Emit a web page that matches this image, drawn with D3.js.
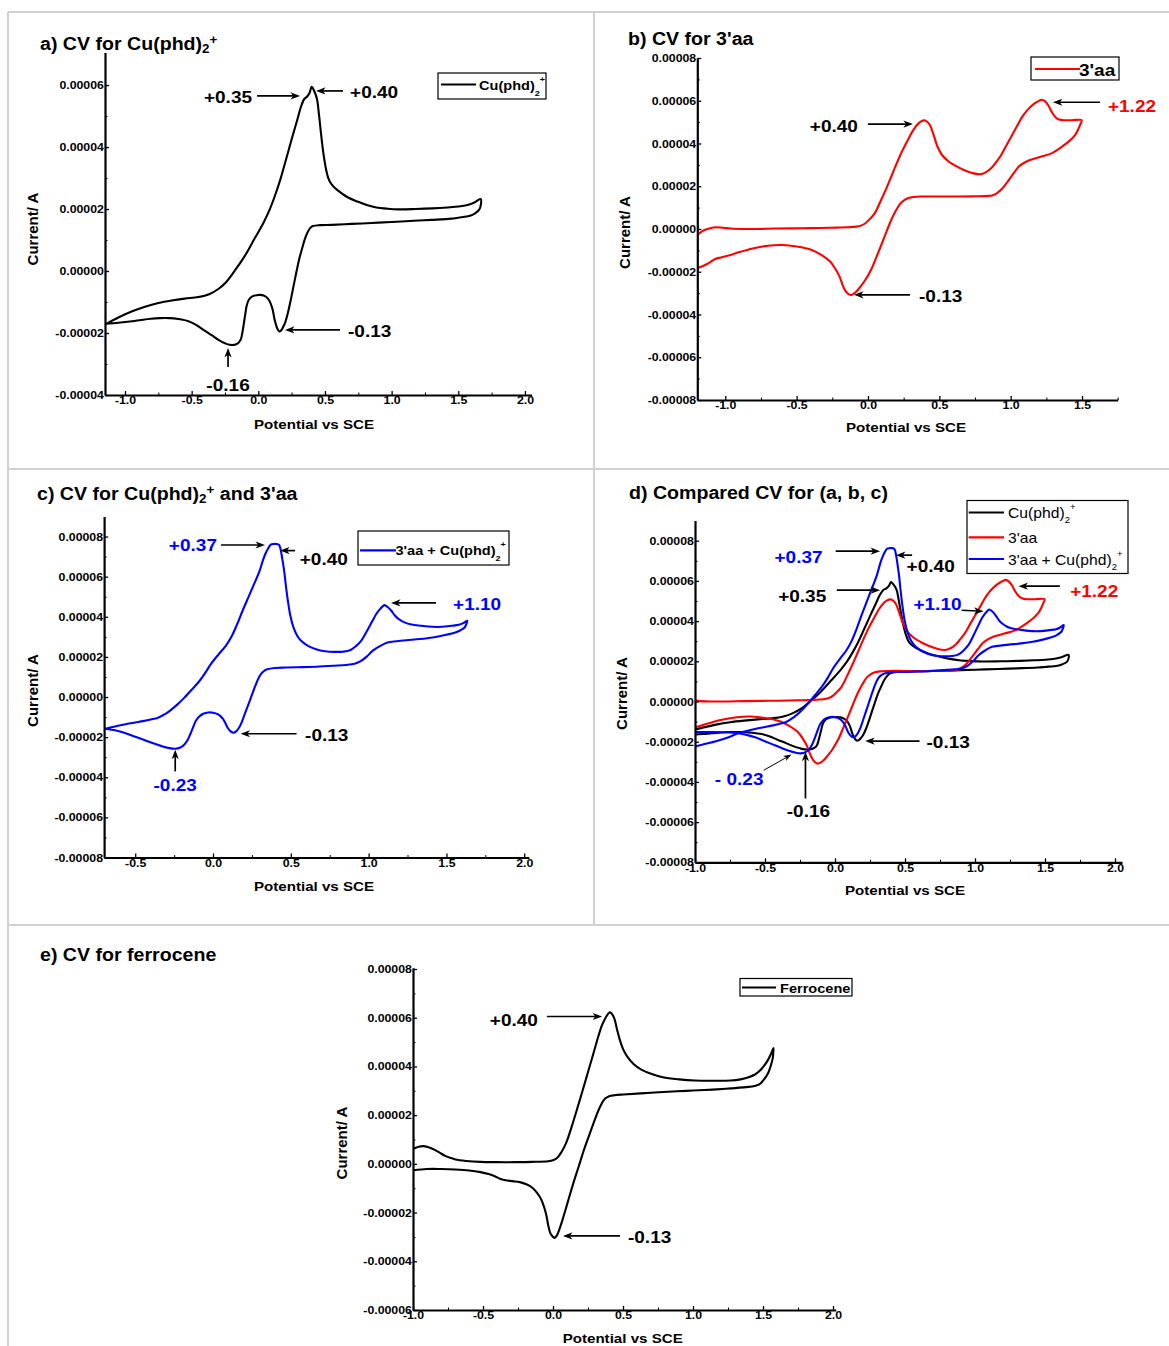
<!DOCTYPE html>
<html>
<head>
<meta charset="utf-8">
<script src="https://cdn.jsdelivr.net/npm/d3@7"></script>
<style>
  body { margin: 0; background: #fff; }
  svg text { font-family: "Liberation Sans", Arial, Helvetica, sans-serif; }
</style>
</head>
<body>
<svg id="fig" width="1169" height="1346"></svg>
<script>
// ---------------------------------------------------------------------------
// Cyclic voltammograms: [potential (V vs SCE), current (units of 1e-5 A)]
// Each loop is listed forward (anodic) sweep first, then the return sweep.
// ---------------------------------------------------------------------------
const cuPhd2Cv = [
  [-1.138,-1.70],[-1.05,-1.50],[-0.946,-1.30],[-0.85,-1.15],[-0.749,-1.03],[-0.65,-0.95],
  [-0.552,-0.89],[-0.45,-0.84],[-0.369,-0.75],[-0.30,-0.58],[-0.242,-0.36],[-0.17,0.05],
  [-0.101,0.49],[-0.03,1.03],[0.039,1.56],[0.085,1.98],[0.124,2.42],[0.165,2.95],
  [0.208,3.60],[0.25,4.25],[0.293,4.89],[0.32,5.30],[0.345,5.55],[0.365,5.62],
  [0.385,5.75],[0.400,5.94],[0.420,5.80],[0.440,5.55],[0.455,5.05],[0.470,4.45],
  [0.485,3.90],[0.505,3.35],[0.525,3.00],[0.546,2.82],[0.575,2.68],[0.603,2.58],
  [0.67,2.38],[0.744,2.24],[0.82,2.12],[0.885,2.05],[0.97,2.01],[1.054,1.99],
  [1.18,2.00],[1.307,2.02],[1.42,2.05],[1.504,2.08],[1.57,2.13],[1.617,2.20],[1.668,2.32],
  [1.659,1.99],[1.62,1.84],[1.589,1.78],[1.50,1.72],[1.448,1.69],[1.30,1.65],[1.166,1.62],
  [1.00,1.58],[0.85,1.55],[0.70,1.52],[0.55,1.49],[0.462,1.48],[0.41,1.45],[0.392,1.40],
  [0.37,1.25],[0.349,1.03],[0.33,0.75],[0.307,0.39],[0.285,-0.05],[0.265,-0.47],
  [0.245,-0.90],[0.223,-1.33],[0.20,-1.68],[0.186,-1.81],[0.170,-1.92],[0.158,-1.95],
  [0.145,-1.88],[0.124,-1.60],[0.105,-1.20],[0.082,-0.95],[0.060,-0.84],[0.039,-0.79],
  [0.015,-0.77],[-0.015,-0.78],[-0.045,-0.82],[-0.07,-0.92],[-0.087,-1.11],[-0.098,-1.40],
  [-0.107,-1.65],[-0.118,-1.95],[-0.130,-2.19],[-0.145,-2.30],[-0.170,-2.37],[-0.214,-2.38],
  [-0.25,-2.33],[-0.299,-2.22],[-0.35,-2.07],[-0.411,-1.90],[-0.47,-1.73],[-0.524,-1.62],
  [-0.60,-1.55],[-0.665,-1.52],[-0.74,-1.52],[-0.806,-1.54],[-0.88,-1.58],[-0.946,-1.62],
  [-1.05,-1.67],[-1.138,-1.70]
];

const aa3Cv = [
  [-1.202,-0.33],[-1.175,-0.17],[-1.145,-0.05],[-1.10,0.05],[-1.067,0.08],[-1.02,0.06],
  [-0.964,0.02],[-0.88,0.00],[-0.782,0.00],[-0.65,0.02],[-0.523,0.03],[-0.40,0.04],
  [-0.264,0.06],[-0.15,0.08],[-0.083,0.11],[-0.045,0.17],[-0.018,0.27],[0.015,0.48],
  [0.047,0.73],[0.085,1.25],[0.124,1.83],[0.165,2.48],[0.202,3.08],[0.240,3.65],
  [0.280,4.17],[0.315,4.60],[0.345,4.88],[0.370,5.02],[0.396,5.08],[0.415,5.02],
  [0.435,4.85],[0.46,4.40],[0.487,3.86],[0.52,3.45],[0.565,3.16],[0.615,2.95],
  [0.668,2.77],[0.73,2.62],[0.785,2.56],[0.825,2.65],[0.863,2.84],[0.895,3.10],
  [0.927,3.39],[0.965,3.85],[1.005,4.33],[1.045,4.82],[1.083,5.27],[1.125,5.62],
  [1.161,5.84],[1.195,5.98],[1.218,6.05],[1.240,5.98],[1.264,5.78],[1.29,5.45],
  [1.316,5.22],[1.340,5.12],[1.368,5.09],[1.43,5.09],[1.497,5.09],
  [1.485,4.85],[1.472,4.64],[1.45,4.38],[1.420,4.17],[1.36,3.85],[1.290,3.55],
  [1.21,3.38],[1.135,3.23],[1.095,3.10],[1.057,2.92],[1.02,2.60],[0.979,2.22],
  [0.94,1.88],[0.902,1.67],[0.870,1.57],[0.850,1.55],[0.75,1.53],[0.642,1.52],
  [0.50,1.52],[0.383,1.52],[0.32,1.50],[0.280,1.44],[0.255,1.35],[0.228,1.20],
  [0.195,0.85],[0.163,0.42],[0.130,-0.12],[0.098,-0.67],[0.060,-1.30],[0.021,-1.92],
  [-0.020,-2.40],[-0.055,-2.72],[-0.083,-2.94],[-0.105,-3.05],[-0.122,-3.09],
  [-0.142,-3.02],[-0.161,-2.86],[-0.180,-2.58],[-0.199,-2.23],[-0.23,-1.85],
  [-0.264,-1.53],[-0.33,-1.20],[-0.394,-0.98],[-0.50,-0.82],[-0.601,-0.75],
  [-0.70,-0.78],[-0.808,-0.91],[-0.90,-1.08],[-0.964,-1.22],[-1.028,-1.33],
  [-1.07,-1.40],[-1.119,-1.61],[-1.160,-1.74],[-1.202,-1.84]
];

const mixCv = [
  [-1.04,-2.32],[-0.95,-2.15],[-0.85,-1.98],[-0.76,-1.78],[-0.691,-1.58],[-0.63,-1.47],
  [-0.570,-1.37],[-0.50,-1.27],[-0.450,-1.20],[-0.40,-1.12],[-0.353,-1.03],[-0.315,-0.88],
  [-0.280,-0.70],[-0.23,-0.38],[-0.184,-0.03],[-0.135,0.38],[-0.087,0.80],[-0.050,1.20],
  [-0.015,1.63],[0.035,2.12],[0.082,2.55],[0.12,3.03],[0.155,3.63],[0.19,4.30],
  [0.227,4.97],[0.265,5.65],[0.300,6.30],[0.320,6.80],[0.336,7.13],[0.355,7.42],
  [0.372,7.60],[0.390,7.63],[0.409,7.63],[0.425,7.58],[0.433,7.40],[0.445,6.90],
  [0.457,6.30],[0.469,5.50],[0.481,4.80],[0.497,4.05],[0.517,3.47],[0.540,3.07],
  [0.566,2.80],[0.61,2.55],[0.662,2.38],[0.72,2.28],[0.783,2.25],[0.835,2.26],
  [0.880,2.33],[0.92,2.55],[0.952,2.80],[0.99,3.30],[1.025,3.80],[1.050,4.15],
  [1.073,4.38],[1.090,4.52],[1.102,4.58],[1.120,4.50],[1.146,4.30],[1.170,4.05],
  [1.194,3.88],[1.23,3.72],[1.267,3.63],[1.34,3.55],[1.412,3.50],[1.47,3.50],
  [1.532,3.55],[1.58,3.60],[1.605,3.67],[1.634,3.80],
  [1.627,3.62],[1.617,3.47],[1.59,3.33],[1.557,3.22],[1.49,3.09],[1.412,2.97],
  [1.33,2.89],[1.242,2.83],[1.18,2.78],[1.122,2.72],[1.075,2.55],[1.025,2.30],
  [0.99,2.03],[0.952,1.80],[0.91,1.66],[0.856,1.60],[0.77,1.56],[0.686,1.52],
  [0.58,1.49],[0.469,1.47],[0.40,1.45],[0.348,1.38],[0.32,1.25],[0.300,1.05],
  [0.275,0.62],[0.251,0.13],[0.227,-0.38],[0.203,-0.87],[0.185,-1.25],[0.167,-1.53],
  [0.150,-1.70],[0.131,-1.78],[0.112,-1.70],[0.094,-1.53],[0.076,-1.25],[0.058,-1.03],
  [0.030,-0.85],[0.0,-0.78],[-0.030,-0.77],[-0.063,-0.83],[-0.090,-0.98],[-0.111,-1.20],
  [-0.130,-1.55],[-0.147,-1.87],[-0.165,-2.17],[-0.184,-2.37],[-0.210,-2.52],
  [-0.244,-2.58],[-0.285,-2.54],[-0.329,-2.45],[-0.390,-2.29],[-0.450,-2.12],
  [-0.510,-1.95],[-0.570,-1.78],[-0.63,-1.66],[-0.691,-1.58],[-0.78,-1.53],
  [-0.90,-1.52],[-1.04,-1.53]
];

const ferroceneCv = [
  [-0.998,0.62],[-0.96,0.70],[-0.927,0.73],[-0.89,0.68],[-0.850,0.59],[-0.81,0.46],
  [-0.774,0.34],[-0.735,0.25],[-0.697,0.18],[-0.62,0.12],[-0.518,0.08],[-0.40,0.07],
  [-0.263,0.07],[-0.15,0.08],[-0.033,0.11],[0.0,0.15],[0.031,0.25],[0.062,0.50],
  [0.094,0.86],[0.132,1.50],[0.171,2.23],[0.21,2.98],[0.248,3.73],[0.286,4.48],
  [0.324,5.24],[0.350,5.70],[0.375,5.99],[0.392,6.15],[0.406,6.22],[0.422,6.15],
  [0.439,5.95],[0.458,5.50],[0.477,5.10],[0.50,4.72],[0.528,4.42],[0.575,4.10],
  [0.631,3.87],[0.70,3.70],[0.784,3.56],[0.90,3.47],[1.014,3.42],[1.14,3.41],
  [1.269,3.42],[1.34,3.47],[1.397,3.56],[1.44,3.66],[1.473,3.80],[1.507,4.02],
  [1.537,4.28],[1.560,4.55],[1.575,4.76],
  [1.573,4.55],[1.570,4.35],[1.555,4.02],[1.537,3.73],[1.505,3.45],[1.473,3.26],
  [1.44,3.20],[1.397,3.16],[1.27,3.10],[1.141,3.05],[1.00,3.01],[0.886,2.98],
  [0.70,2.92],[0.503,2.85],[0.44,2.82],[0.401,2.78],[0.372,2.68],[0.350,2.50],
  [0.325,2.20],[0.299,1.82],[0.26,1.20],[0.222,0.59],[0.184,-0.10],[0.146,-0.78],
  [0.108,-1.52],[0.069,-2.28],[0.048,-2.65],[0.031,-2.90],[0.020,-3.00],[0.013,-3.04],
  [0.0,-3.00],[-0.010,-2.93],[-0.020,-2.83],[-0.035,-2.50],[-0.046,-2.15],[-0.062,-1.80],
  [-0.084,-1.46],[-0.115,-1.18],[-0.148,-0.98],[-0.19,-0.84],[-0.237,-0.75],[-0.29,-0.71],
  [-0.340,-0.67],[-0.38,-0.61],[-0.416,-0.51],[-0.46,-0.42],[-0.518,-0.34],[-0.60,-0.27],
  [-0.697,-0.23],[-0.80,-0.21],[-0.901,-0.21],[-0.998,-0.26]
];

const CURRENT_UNIT = 1e-5; // currents above are stored in units of 1e-5 A

// Axis ticks
const potentialTicksWide   = [-1.0, -0.5, 0.0, 0.5, 1.0, 1.5, 2.0];
const potentialTicksShort  = [-1.0, -0.5, 0.0, 0.5, 1.0, 1.5];
const potentialTicksMix    = [-0.5, 0.0, 0.5, 1.0, 1.5, 2.0];
const currentTicksA        = [-0.00004, -0.00002, 0, 0.00002, 0.00004, 0.00006];
const currentTicks8        = [-0.00008, -0.00006, -0.00004, -0.00002, 0, 0.00002, 0.00004, 0.00006, 0.00008];
const currentTicksFerro    = [-0.00006, -0.00004, -0.00002, 0, 0.00002, 0.00004, 0.00006, 0.00008];

// Series names and peak-potential labels
const nameCu   = "Cu(phd)";
const name3aa  = "3'aa";
const nameFc   = "Ferrocene";
const peakLabelsA = ["+0.35", "+0.40", "-0.13", "-0.16"];
const peakLabelsB = ["+0.40", "+1.22", "-0.13"];
const peakLabelsC = ["+0.37", "+0.40", "+1.10", "-0.13", "-0.23"];
const peakLabelsD = ["+0.37", "+0.40", "+0.35", "+1.10", "+1.22", "-0.13", "- 0.23", "-0.16"];
const peakLabelsE = ["+0.40", "-0.13"];

// ---------------------------------------------------------------------------
const BLACK = "#000000", RED = "#ff0000", BLUE = "#0000ff";
const SX = 1.12;               // horizontal stretch applied to all lettering
const svg = d3.select("#fig");

// light panel frame
const frame = svg.append("g").attr("stroke", "#d0d0d0").attr("stroke-width", 2);
[[8,12,1169,12],[8,12,8,1346],[594,12,594,925],[8,469,1169,469],[8,925,1169,925]]
  .forEach(([x1,y1,x2,y2]) => frame.append("line").attr("x1",x1).attr("y1",y1).attr("x2",x2).attr("y2",y2));

// text helper: segments [{t, size, dy}]
function richText(g, x, y, segs, opts) {
  const o = Object.assign({size: 13, weight: "bold", anchor: "start", fill: BLACK, rotate: 0, stretch: SX}, opts || {});
  const t = g.append("text")
    .attr("transform", `translate(${x},${y}) rotate(${o.rotate}) scale(${o.stretch},1)`)
    .attr("font-size", o.size).attr("font-weight", o.weight)
    .attr("text-anchor", o.anchor).attr("fill", o.fill);
  segs.forEach(s => {
    t.append("tspan").text(s.t)
      .attr("font-size", s.size || o.size)
      .attr("dy", s.dy || 0);
  });
  return t;
}

function arrow(g, x1, y1, x2, y2, thin) {
  const dx = x2 - x1, dy = y2 - y1, len = Math.hypot(dx, dy);
  const ux = dx / len, uy = dy / len, nx = -uy, ny = ux;
  const L = thin ? 8 : 9.5, W = thin ? 3 : 3.6;
  g.append("line").attr("x1", x1).attr("y1", y1)
    .attr("x2", x2 - ux * L * 0.6).attr("y2", y2 - uy * L * 0.6)
    .attr("stroke", BLACK).attr("stroke-width", thin ? 1 : 1.7);
  const pts = [
    [x2, y2],
    [x2 - ux * L + nx * W, y2 - uy * L + ny * W],
    [x2 - ux * L * 0.72, y2 - uy * L * 0.72],
    [x2 - ux * L - nx * W, y2 - uy * L - ny * W]
  ];
  g.append("path").attr("d", "M" + pts.map(p => p.join(",")).join("L") + "Z").attr("fill", BLACK);
}

// "Cu(phd)" with subscript 2 and superscript +
const cuSegs = (sub, subDy, supDy) => [{t: nameCu}, {t: "2", size: sub, dy: subDy}, {t: "+", size: sub, dy: supDy}];

let clipId = 0;
function drawPanel(p) {
  const g = svg.append("g");
  const x = d3.scaleLinear().domain(p.xDomain).range(p.xRange);
  const y = d3.scaleLinear().domain(p.yDomain).range(p.yRange);

  // title
  richText(g, p.title.x, p.title.y, p.title.segs, {size: 17.5});

  // curves
  const id = "clip" + (clipId++);
  g.append("clipPath").attr("id", id).append("rect")
    .attr("x", p.xRange[0]).attr("y", p.yRange[1])
    .attr("width", p.xRange[1] - p.xRange[0]).attr("height", p.yRange[0] - p.yRange[1]);
  const line = d3.line()
    .x(d => x(d[0])).y(d => y(d[1] * CURRENT_UNIT))
    .curve(d3.curveCatmullRom.alpha(0.5));
  const cg = g.append("g").attr("clip-path", `url(#${id})`);
  p.series.forEach(s => {
    cg.append("path").attr("d", line(s.data))
      .attr("fill", "none").attr("stroke", s.color).attr("stroke-width", 2.1)
      .attr("stroke-linejoin", "round").attr("stroke-linecap", "round");
  });

  // axes
  const yFmt = v => (v < 0 ? "-" : "") + Math.abs(v).toFixed(5);
  const xFmt = v => (v < 0 ? "-" : "") + Math.abs(v).toFixed(1);
  const x0 = p.xRange[0], yB = p.yRange[0];

  const yAxis = g.append("g").attr("transform", `translate(${x0},0)`)
    .call(d3.axisLeft(y).tickValues(p.yTicks).tickFormat(yFmt).tickSize(-4).tickSizeOuter(0).tickPadding(1));
  const yMinor = [];
  for (let i = 0; i < p.yTicks.length - 1; i++) yMinor.push((p.yTicks[i] + p.yTicks[i + 1]) / 2);
  g.append("g").attr("transform", `translate(${x0},0)`)
    .call(d3.axisLeft(y).tickValues(yMinor).tickFormat("").tickSize(-2.5).tickSizeOuter(0))
    .call(a => a.select(".domain").remove());

  const xAxis = g.append("g").attr("transform", `translate(0,${yB})`)
    .call(d3.axisBottom(x).tickValues(p.xTicks).tickFormat(xFmt).tickSize(-4).tickSizeOuter(0).tickPadding(1.5));
  const xMinor = [];
  for (let i = 0; i < p.xTicks.length - 1; i++) xMinor.push((p.xTicks[i] + p.xTicks[i + 1]) / 2);
  if (p.xMinorExtra) xMinor.push(p.xMinorExtra);
  g.append("g").attr("transform", `translate(0,${yB})`)
    .call(d3.axisBottom(x).tickValues(xMinor).tickFormat("").tickSize(-2.5).tickSizeOuter(0))
    .call(a => a.select(".domain").remove());

  [yAxis, xAxis].forEach(a => {
    a.select(".domain").attr("stroke", BLACK).attr("stroke-width", 2.2);
    a.selectAll(".tick line").attr("stroke", BLACK).attr("stroke-width", 1.3);
    a.selectAll("text")
      .attr("font-family", '"Liberation Sans", Arial, sans-serif')
      .attr("font-size", 11).attr("font-weight", "bold").attr("fill", BLACK)
      .attr("transform", `scale(${SX},1)`);
  });
  g.selectAll(".tick line").attr("stroke", BLACK);

  // axis titles
  richText(g, p.xLabel[0], p.xLabel[1], [{t: "Potential vs SCE"}], {size: 13.5, anchor: "middle"});
  richText(g, p.yLabel[0] + 5.5, p.yLabel[1], [{t: "Current/ A"}], {size: 15, anchor: "middle", rotate: -90, stretch: 1});

  // legend
  const L = p.legend;
  g.append("rect").attr("x", L.box[0]).attr("y", L.box[1]).attr("width", L.box[2]).attr("height", L.box[3])
    .attr("fill", "#fff").attr("stroke", BLACK).attr("stroke-width", 1.2);
  L.rows.forEach(r => {
    g.append("line").attr("x1", L.line[0]).attr("x2", L.line[1]).attr("y1", r.y).attr("y2", r.y)
      .attr("stroke", r.color).attr("stroke-width", 2.2);
    richText(g, L.textX, r.y + r.base, r.segs, {size: L.size, weight: L.weight});
  });

  // peak annotations
  p.notes.forEach(n => {
    const tx = x(n.tip[0]), ty = y(n.tip[1] * CURRENT_UNIT);
    arrow(g, tx + n.tail[0], ty + n.tail[1], tx, ty, n.thin);
    richText(g, tx + n.text[0], ty + n.text[1], [{t: n.label}],
      {size: 17, anchor: n.anchor, fill: n.color || BLACK});
  });
}

// ---------------------------------------------------------------------------
const panels = [
  { // a
    xDomain: [-1.15, 2.05], xRange: [105, 531.6],
    yDomain: [-0.00004, 0.0000705], yRange: [395, 52.5],
    xTicks: potentialTicksWide, yTicks: currentTicksA,
    title: {x: 40, y: 49.5, segs: [{t: "a) CV for "}].concat(cuSegs(12, 3, -9))},
    xLabel: [314, 428.5], yLabel: [32.5, 229],
    series: [{data: cuPhd2Cv, color: BLACK}],
    legend: {box: [438, 73, 108, 26], line: [441, 476], textX: 479, size: 13, weight: "bold",
             rows: [{y: 84.5, base: 5.5, color: BLACK, segs: cuSegs(8, 5.5, -14)}]},
    notes: [
      {label: peakLabelsA[0], tip: [0.313, 5.65], tail: [-43, 0], text: [-48, 7], anchor: "end"},
      {label: peakLabelsA[1], tip: [0.433, 5.81], tail: [27, 0], text: [34, 7], anchor: "start"},
      {label: peakLabelsA[2], tip: [0.200, -1.90], tail: [55, 0], text: [63, 7], anchor: "start"},
      {label: peakLabelsA[3], tip: [-0.227, -2.48], tail: [0, 19], text: [0, 43], anchor: "middle"}
    ]
  },
  { // b
    xDomain: [-1.196, 1.75], xRange: [697.3, 1117.7],
    yDomain: [-0.00008, 0.00008], yRange: [400, 58],
    xTicks: potentialTicksShort, xMinorExtra: 1.75, yTicks: currentTicks8,
    title: {x: 628, y: 45, segs: [{t: "b) CV for 3'aa"}]},
    xLabel: [906, 432], yLabel: [624.5, 232.5],
    series: [{data: aa3Cv, color: RED}],
    legend: {box: [1031, 57, 88, 23], line: [1035, 1080], textX: 1079, size: 17, weight: "bold",
             rows: [{y: 69, base: 7, color: RED, segs: [{t: name3aa}]}]},
    notes: [
      {label: peakLabelsB[0], tip: [0.315, 4.91], tail: [-45, 0], text: [-55, 8], anchor: "end"},
      {label: peakLabelsB[1], tip: [1.296, 5.93], tail: [47, 0], text: [55, 10], anchor: "start", color: RED},
      {label: peakLabelsB[2], tip: [-0.098, -3.08], tail: [56, 0], text: [65, 7.5], anchor: "start"}
    ]
  },
  { // c
    xDomain: [-0.70, 2.03], xRange: [104.1, 528.9],
    yDomain: [-0.00008, 0.00009], yRange: [857.5, 516.5],
    xTicks: potentialTicksMix, yTicks: currentTicks8,
    title: {x: 37, y: 499.5, segs: [{t: "c) CV for "}].concat(cuSegs(12, 3, -9), [{t: " and 3'aa", dy: 6}])},
    xLabel: [314, 891], yLabel: [32, 690.5],
    series: [{data: mixCv, color: BLUE}],
    legend: {box: [358, 531, 151, 34], line: [360, 396], textX: 395.5, size: 13, weight: "bold",
             rows: [{y: 550.3, base: 5, color: BLUE, segs: [{t: name3aa + " + "}].concat(cuSegs(8, 5.5, -14))}]},
    notes: [
      {label: peakLabelsC[0], tip: [0.334, 7.58], tail: [-44, 0], text: [-48, 6.5], anchor: "end", color: BLUE},
      {label: peakLabelsC[1], tip: [0.431, 7.30], tail: [15, 0], text: [19.6, 14], anchor: "start"},
      {label: peakLabelsC[2], tip: [1.144, 4.69], tail: [45, 0], text: [62, 6.7], anchor: "start", color: BLUE},
      {label: peakLabelsC[3], tip: [0.177, -1.83], tail: [56, 0], text: [64.5, 7.6], anchor: "start"},
      {label: peakLabelsC[4], tip: [-0.243, -2.63], tail: [0, 21.6], text: [0, 41], anchor: "middle", color: BLUE}
    ]
  },
  { // d
    xDomain: [-1.0, 2.05], xRange: [695, 1122],
    yDomain: [-0.00008, 0.00009], yRange: [862.3, 520.6],
    xTicks: potentialTicksWide, yTicks: currentTicks8,
    title: {x: 629, y: 498.7, segs: [{t: "d) Compared CV for (a, b, c)"}]},
    xLabel: [905, 895], yLabel: [621.5, 693.5],
    series: [{data: cuPhd2Cv, color: BLACK}, {data: aa3Cv, color: RED}, {data: mixCv, color: BLUE}],
    legend: {box: [967, 500.5, 161, 73], line: [968.7, 1004], textX: 1008, size: 14, weight: "normal",
             rows: [
               {y: 512.5, base: 5.5, color: BLACK, segs: cuSegs(8.5, 5, -13)},
               {y: 537.3, base: 5.5, color: RED, segs: [{t: name3aa}]},
               {y: 559, base: 5.5, color: BLUE, segs: [{t: name3aa + " + "}].concat(cuSegs(8.5, 5, -13))}
             ]},
    notes: [
      {label: peakLabelsD[0], tip: [0.322, 7.48], tail: [-44.4, 0], text: [-57.5, 12.3], anchor: "end", color: BLUE},
      {label: peakLabelsD[1], tip: [0.435, 7.28], tail: [16.2, 0], text: [10.7, 16.6], anchor: "start"},
      {label: peakLabelsD[2], tip: [0.322, 5.54], tail: [-43.3, 0], text: [-53.8, 11.6], anchor: "end"},
      {label: peakLabelsD[3], tip: [1.061, 4.49], tail: [-22, -1], text: [-22, -1], anchor: "end", color: BLUE},
      {label: peakLabelsD[4], tip: [1.311, 5.74], tail: [41.3, 0], text: [51.6, 10.6], anchor: "start", color: RED},
      {label: peakLabelsD[5], tip: [0.216, -1.97], tail: [54.3, 0], text: [61.3, 7.3], anchor: "start"},
      {label: peakLabelsD[6], tip: [-0.311, -2.64], tail: [-27.7, 15.7], text: [-28, 30.7], anchor: "end", color: BLUE, thin: true},
      {label: peakLabelsD[7], tip: [-0.211, -2.50], tail: [0, 46.7], text: [3, 65], anchor: "middle"}
    ]
  },
  { // e
    xDomain: [-1.0, 2.02], xRange: [413, 835.8],
    yDomain: [-0.00006, 0.0000805], yRange: [1310, 967.8],
    xTicks: potentialTicksWide, yTicks: currentTicksFerro,
    title: {x: 40, y: 960.7, segs: [{t: "e) CV for ferrocene"}]},
    xLabel: [622.7, 1343], yLabel: [341.5, 1143],
    series: [{data: ferroceneCv, color: BLACK}],
    legend: {box: [740, 978.5, 112, 17.5], line: [742, 776], textX: 780, size: 13, weight: "bold",
             rows: [{y: 987.5, base: 5, color: BLACK, segs: [{t: nameFc}]}]},
    notes: [
      {label: peakLabelsE[0], tip: [0.351, 6.05], tail: [-55.3, 0], text: [-64.2, 9.3], anchor: "end"},
      {label: peakLabelsE[1], tip: [0.071, -2.96], tail: [57.1, 0], text: [65, 7.3], anchor: "start"}
    ]
  }
];

panels.forEach(drawPanel);
</script>
</body>
</html>
